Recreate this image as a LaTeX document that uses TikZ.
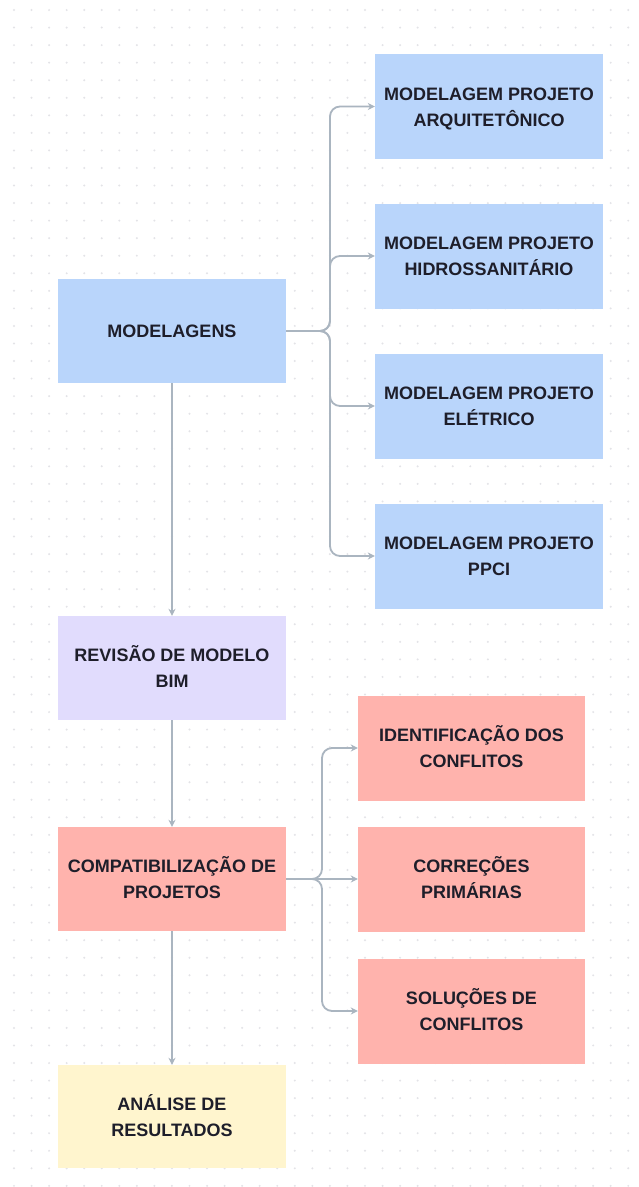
\documentclass[tikz,border=0pt]{standalone}
\usepackage{fontspec}
\setmainfont{Liberation Sans}
\usetikzlibrary{arrows.meta}
\definecolor{bluebox}{HTML}{B9D5FB}
\definecolor{lavbox}{HTML}{E1DCFD}
\definecolor{redbox}{HTML}{FFB3AD}
\definecolor{yelbox}{HTML}{FFF5CE}
\definecolor{conncol}{HTML}{AAB5C0}
\definecolor{dotcol}{HTML}{E3E3E7}
\definecolor{txtcol}{HTML}{1E1E2A}
\begin{document}
\begin{tikzpicture}[x=1pt,y=-1pt,
  boxL/.style={inner sep=0pt, minimum width=228pt, minimum height=104pt},
  boxR/.style={inner sep=0pt, minimum width=228pt, minimum height=105pt},
  boxRed/.style={inner sep=0pt, minimum width=227pt, minimum height=105pt},
  lbl/.style={font=\fontsize{18}{26}\selectfont\bfseries, text=txtcol, inner sep=0pt, anchor=base},
  cn/.style={draw=conncol, line width=1.8pt, rounded corners=10pt, -{Stealth[length=7pt,width=7pt]}}
]
\fill[white] (0,0) rectangle (639,1187);
\useasboundingbox (0,0) rectangle (639,1187);
\foreach \i in {0,...,36}{
  \foreach \j in {0,...,67}{
    \fill[dotcol] (14+17.55*\i, 10+17.55*\j) circle (1.1);
  }
}
% boxes
\node[boxL, fill=bluebox] (mod) at (172,331) {};
\node[boxR, fill=bluebox] (b1) at (489,106.5) {};
\node[boxR, fill=bluebox] (b2) at (489,256) {};
\node[boxR, fill=bluebox] (b3) at (489,406) {};
\node[boxR, fill=bluebox] (b4) at (489,556) {};
\node[boxL, fill=lavbox] (rev) at (172,668) {};
\node[boxL, fill=redbox] (comp) at (172,879) {};
\node[boxL, fill=yelbox, minimum height=103pt] (ana) at (172,1116.5) {};
\node[boxRed, fill=redbox] (r1) at (471.5,748) {};
\node[boxRed, fill=redbox] (r2) at (471.5,879) {};
\node[boxRed, fill=redbox] (r3) at (471.5,1011) {};
% labels
\node[lbl] (modt) at (172,337.5) {MODELAGENS};
\node[lbl] (b1a) at (489,100) {MODELAGEM PROJETO};
\node[lbl] (b1b) at (489,126) {ARQUITETÔNICO};
\node[lbl] (b2a) at (489,249.5) {MODELAGEM PROJETO};
\node[lbl] (b2b) at (489,275.5) {HIDROSSANITÁRIO};
\node[lbl] (b3a) at (489,399.5) {MODELAGEM PROJETO};
\node[lbl] (b3b) at (489,425.5) {ELÉTRICO};
\node[lbl] (b4a) at (489,549.5) {MODELAGEM PROJETO};
\node[lbl] (b4b) at (489,575.5) {PPCI};
\node[lbl] (reva) at (172,661.5) {REVISÃO DE MODELO};
\node[lbl] (revb) at (172,687.5) {BIM};
\node[lbl] (compa) at (172,872.5) {COMPATIBILIZAÇÃO DE};
\node[lbl] (compb) at (172,898.5) {PROJETOS};
\node[lbl] (anaa) at (172,1110) {ANÁLISE DE};
\node[lbl] (anab) at (172,1136) {RESULTADOS};
\node[lbl] (r1a) at (471.5,741.5) {IDENTIFICAÇÃO DOS};
\node[lbl] (r1b) at (471.5,767.5) {CONFLITOS};
\node[lbl] (r2a) at (471.5,872.5) {CORREÇÕES};
\node[lbl] (r2b) at (471.5,898.5) {PRIMÁRIAS};
\node[lbl] (r3a) at (471.5,1004.5) {SOLUÇÕES DE};
\node[lbl] (r3b) at (471.5,1030.5) {CONFLITOS};
% connectors
\coordinate (jb) at (330,331);
\foreach \t in {b1,b2,b3,b4}{
  \draw[cn] (mod.east) -- (jb) |- (\t.west);
}
\coordinate (jr) at (322,879);
\draw[cn] (comp.east) -- (jr) |- (r1.west);
\draw[cn] (comp.east) -- (jr) |- (r3.west);
\draw[cn] (comp.east) -- (r2.west);
\draw[cn] (mod.south) -- (rev.north);
\draw[cn] (rev.south) -- (comp.north);
\draw[cn] (comp.south) -- (ana.north);
\end{tikzpicture}
\end{document}
